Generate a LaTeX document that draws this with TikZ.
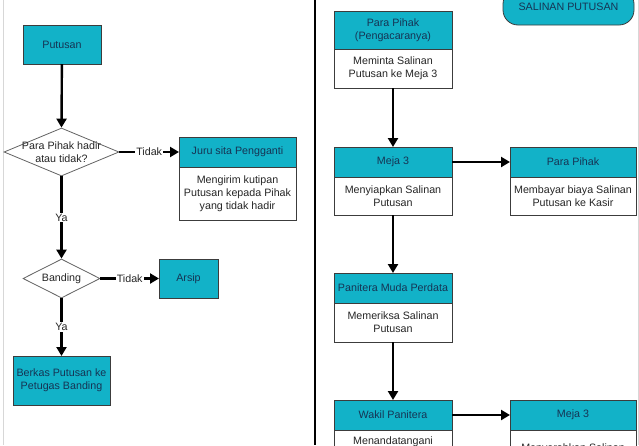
\documentclass[tikz,border=0pt]{standalone}
\usepackage{fontspec}
\setmainfont{Liberation Sans}
\usetikzlibrary{shapes.geometric, arrows.meta, positioning}

\definecolor{tealfill}{RGB}{18,178,200}
\definecolor{headtext}{RGB}{22,52,84}
\definecolor{boxline}{RGB}{60,60,60}
\definecolor{paneline}{RGB}{215,215,215}

\begin{document}
\begin{tikzpicture}[
                x=1pt, y=-1pt,
                node distance=0pt,
                font=\fontsize{10.7}{13}\selectfont,
                box/.style={draw=boxline, line width=0.8pt, align=center, inner sep=0pt, outer sep=0pt},
                head/.style={box, fill=tealfill, text=headtext, minimum height=30pt},
                body/.style={box, fill=white, text=black!85},
                decision/.style={diamond, draw=boxline!80, line width=0.8pt, fill=white, inner sep=0pt},
                qtext/.style={align=center, text=black!85},
                answer/.style={fill=white, inner sep=1pt, text=black!85},
                flow/.style={line width=2.4pt, -{Triangle[length=9pt,width=10pt]}}
            ]

            \useasboundingbox (0,0) rectangle (639,445);
            \clip (0,0) rectangle (639,445);

            % Panel lines
            \draw[paneline, line width=1pt] (3,0) -- (3,445);
            \draw[line width=2pt] (315,0) -- (315,445);
            \draw[paneline, line width=1pt] (638,0) -- (638,445);

            % Left panel nodes
            \node[head, minimum width=78pt, minimum height=39pt] (put) at (62,44.5) {Putusan};
            \node[decision, minimum width=115pt, minimum height=48pt,
                  label={[qtext]center:{Para Pihak hadir\\atau tidak?}}] (q1) at (61.5,152) {};

            \node[head, minimum width=117pt] (juh) at (237.5,152) {Juru sita Pengganti};
            \node[body, minimum width=117pt, minimum height=53pt, below=of juh] (jub) {Mengirim kutipan\\Putusan kepada Pihak\\yang tidak hadir};

            \node[decision, minimum width=77pt, minimum height=39pt,
                  label={[qtext]center:Banding}] (q2) at (61.5,278.5) {};
            \node[head, minimum width=59pt, minimum height=39pt] (ars) at (188.5,278.5) {Arsip};

            \node[head, minimum width=97pt, minimum height=49pt] (ber) at (61.5,380.5) {Berkas Putusan ke\\Petugas Banding};

            % Right panel nodes
            \node[head, rounded corners=15pt, minimum width=131pt, minimum height=36pt] (sal) at (568.5,7) {SALINAN PUTUSAN};

            \node[head, minimum width=118pt, minimum height=38pt] (pph) at (393,30) {Para Pihak\\(Pengacaranya)};
            \node[body, minimum width=118pt, minimum height=39pt, below=of pph] (ppb) {Meminta Salinan\\Putusan ke Meja 3};

            \node[head, minimum width=118pt] (m3h) at (393,162) {Meja 3};
            \node[body, minimum width=118pt, minimum height=38pt, below=of m3h] (m3b) {Menyiapkan Salinan\\Putusan};

            \node[head, minimum width=126pt] (p2h) at (573,162) {Para Pihak};
            \node[body, minimum width=126pt, minimum height=38pt, below=of p2h] (p2b) {Membayar biaya Salinan\\Putusan ke Kasir};

            \node[head, minimum width=118pt] (pmh) at (393,288) {Panitera Muda Perdata};
            \node[body, minimum width=118pt, minimum height=39pt, below=of pmh] (pmb) {Memeriksa Salinan\\Putusan};

            % bottom boxes run off the page
            \node[head, minimum width=118pt] (wph) at (393,415) {Wakil Panitera};
            \node[body, minimum width=118pt, minimum height=24pt, below=of wph] (wpb) {Menandatangani};

            \node[head, minimum width=126pt] (m4h) at (573,415) {Meja 3};
            \node[body, minimum width=126pt, minimum height=37pt, below=of m4h] (m4b) {Menyerahkan Salinan};

            % Connections in the left panel
            \draw[flow] (put) -- (q1.north);
            \draw[flow] (q1.east) -- node[answer]{Tidak} (juh.west);
            \draw[flow] (q1.south) -- node[answer]{Ya} (q2.north);
            \draw[flow] (q2.east) -- node[answer]{Tidak} (ars.west);
            \draw[flow] (q2.south) -- node[answer]{Ya} (ber.north);

            % Connections in the right panel
            \draw[flow] (ppb) -- (m3h);
            \draw[flow] (m3h) -- (p2h);
            \draw[flow] (m3b) -- (pmh);
            \draw[flow] (pmb) -- (wph);
            \draw[flow] (wph) -- (m4h);

        \end{tikzpicture}
\end{document}
